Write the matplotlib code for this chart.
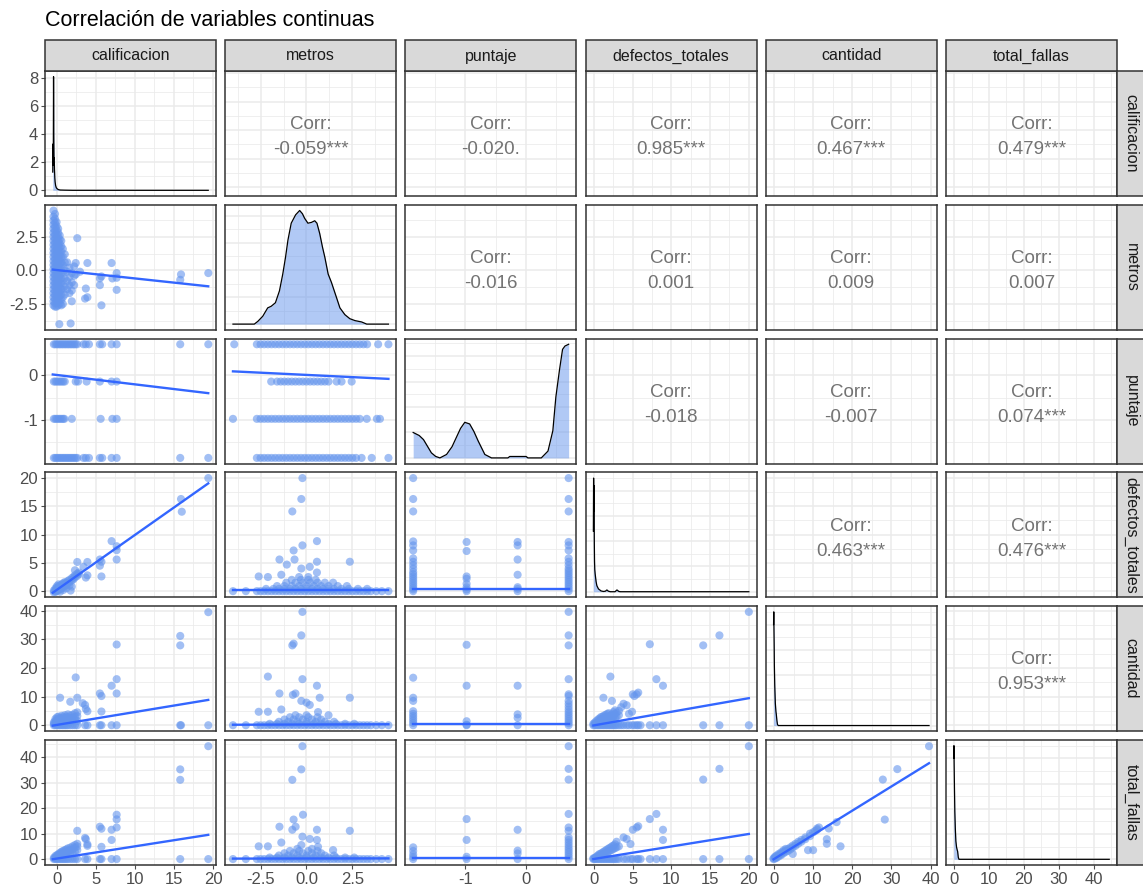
import matplotlib
matplotlib.use("Agg")
import matplotlib.pyplot as plt
from matplotlib.patches import Rectangle
from matplotlib.ticker import MaxNLocator, AutoMinorLocator

plt.rcParams["font.family"] = ["Liberation Sans", "DejaVu Sans"]

# variables and their observed ranges
variables = ["calificacion", "metros", "puntaje", "defectos_totales", "cantidad", "total_fallas"]
var_min = [-0.54, -4.0, -1.86, -0.1, -0.1, -0.1]
var_max = [19.39, 4.46, 0.70, 20.0, 39.6, 44.5]

major_ticks = [[0, 5, 10, 15, 20], [-2.5, 0.0, 2.5], [-1, 0], [0, 5, 10, 15, 20],
               [0, 10, 20, 30, 40], [0, 10, 20, 30, 40]]
major_labels = [["0", "5", "10", "15", "20"], ["-2.5", "0.0", "2.5"], ["-1", "0"],
                ["0", "5", "10", "15", "20"], ["0", "10", "20", "30", "40"],
                ["0", "10", "20", "30", "40"]]
minor_ticks = [[2.5, 7.5, 12.5, 17.5], [-3.75, -1.25, 1.25, 3.75], [-1.5, -0.5, 0.5],
               [2.5, 7.5, 12.5, 17.5], [5, 15, 25, 35], [5, 15, 25, 35, 45]]

# correlation labels, upper triangle row by row
corr_labels = [
    ["-0.059***", "-0.020.", "0.985***", "0.467***", "0.479***"],
    ["-0.016", "0.001", "0.009", "0.007"],
    ["-0.018", "-0.007", "0.074***"],
    ["0.463***", "0.476***"],
    ["0.953***"],
]

# linear fits (intercept, slope) for the lower panels
fit_lines = {
    (1, 0): (0.025, -0.0624), (2, 0): (0.008, -0.0211), (3, 0): (0.25, 0.97),
    (4, 0): (0.12, 0.45), (5, 0): (0.2, 0.48),
    (2, 1): (0.01, -0.02), (3, 1): (0.12, 0.0), (4, 1): (0.25, 0.02), (5, 1): (0.22, 0.01),
    (3, 2): (0.3, 0.0), (4, 2): (0.3, 0.0), (5, 2): (0.3, 0.0),
    (4, 3): (-0.03, 0.474), (5, 3): (0.05, 0.49),
    (5, 4): (0.0, 0.95),
}

# density curves for the diagonal
dens_calif_x = [-0.54, -0.52, -0.5, -0.47, -0.44, -0.41, -0.38, -0.35, -0.32, -0.28, -0.24,
                -0.18, -0.1, 0.0, 0.15, 0.4, 1.0, 2.0, 19.39]
dens_calif_y = [1.3, 3.3, 1.8, 2.6, 8.1, 4.0, 2.2, 2.3, 1.5, 0.9, 0.6, 0.35, 0.2, 0.12, 0.06,
                0.02, 0.01, 0.0, 0.0]
dens_metros_x = [-4.0, -2.84, -2.65, -2.38, -2.11, -1.92, -1.69, -1.47, -1.29, -1.14, -1.01,
                 -0.83, -0.59, -0.37, -0.22, -0.10, 0.08, 0.27, 0.45, 0.57, 0.72, 0.87, 1.0,
                 1.18, 1.36, 1.64, 1.82, 2.09, 2.36, 2.64, 3.0, 3.28, 4.46]
dens_metros_y = [0.0, 0.0, 0.010, 0.029, 0.060, 0.066, 0.079, 0.123, 0.185, 0.247, 0.310,
                 0.373, 0.404, 0.420, 0.408, 0.391, 0.373, 0.376, 0.382, 0.373, 0.335, 0.285,
                 0.247, 0.185, 0.154, 0.097, 0.060, 0.035, 0.020, 0.013, 0.008, 0.0, 0.0]
dens_puntaje_x = [-1.86, -1.76, -1.69, -1.62, -1.56, -1.49, -1.42, -1.31, -1.22, -1.15, -1.08,
                  -1.01, -0.93, -0.86, -0.79, -0.68, -0.57, -0.30, -0.27, 0.0, 0.03, 0.25,
                  0.36, 0.44, 0.49, 0.55, 0.60, 0.64, 0.70]
dens_puntaje_y = [0.25, 0.22, 0.18, 0.11, 0.05, 0.015, 0.0, 0.034, 0.11, 0.20, 0.29, 0.35,
                  0.334, 0.26, 0.167, 0.034, 0.0, 0.0, 0.014, 0.014, 0.0, 0.0, 0.067, 0.267,
                  0.60, 0.867, 1.067, 1.10, 1.117]
dens_defectos_x = [-0.1, -0.07, -0.04, -0.01, 0.02, 0.05, 0.08, 0.13, 0.25, 0.35, 0.56, 0.9,
                   1.2, 1.45, 1.65, 1.85, 2.1, 2.7, 2.95, 3.2, 3.4, 20.0]
dens_defectos_y = [2.4, 4.5, 3.2, 4.2, 2.0, 1.2, 0.88, 0.71, 0.4, 0.24, 0.11, 0.03, 0.01,
                   0.02, 0.07, 0.02, 0.0, 0.0, 0.07, 0.01, 0.0, 0.0]
dens_cantidad_x = [-0.1, -0.05, 0.0, 0.05, 0.1, 0.2, 0.35, 0.5, 0.6, 0.75, 0.9, 1.1, 39.6]
dens_cantidad_y = [4.0, 4.5, 3.8, 3.2, 2.4, 1.6, 0.88, 0.56, 0.44, 0.2, 0.04, 0.0, 0.0]
dens_total_x = [-0.1, -0.05, 0.0, 0.1, 0.2, 0.35, 0.5, 0.7, 0.9, 1.0, 1.2, 1.4, 44.5]
dens_total_y = [4.0, 4.5, 3.8, 2.8, 1.9, 1.2, 0.72, 0.48, 0.36, 0.32, 0.08, 0.0, 0.0]

densities = [(dens_calif_x, dens_calif_y), (dens_metros_x, dens_metros_y),
             (dens_puntaje_x, dens_puntaje_y), (dens_defectos_x, dens_defectos_y),
             (dens_cantidad_x, dens_cantidad_y), (dens_total_x, dens_total_y)]

# scatter points, grouped as (x, [y values]) or (y, [x values])
calif_vs_metros = [
    (-0.45, [4.45, 4.0, 3.7, 3.4, 3.1, 2.8, 2.5, 2.2, 1.9, 1.6, 1.3, 1.0, 0.7, 0.4, 0.1, -0.2,
             -0.5, -0.8, -1.1, -1.4, -1.7, -2.0, -2.3, -2.6]),
    (-0.25, [4.2, 3.85, 3.55, 3.25, 2.95, 2.65, 2.35, 2.05, 1.75, 1.45, 1.15, 0.85, 0.55, 0.25,
             -0.05, -0.35, -0.65, -0.95, -1.25, -1.55, -1.85, -2.15, -2.45, -2.7]),
    (-0.05, [3.6, 3.3, 3.0, 2.7, 2.4, 2.1, 1.8, 1.5, 1.2, 0.9, 0.6, 0.3, 0.0, -0.3, -0.6, -0.9,
             -1.2, -1.5, -1.8, -2.1, -2.4, -2.7]),
    (0.15, [3.1, 2.8, 2.5, 2.2, 1.9, 1.6, 1.3, 1.0, 0.7, 0.4, 0.1, -0.2, -0.5, -0.8, -1.1,
            -1.4, -1.7, -2.0, -2.3, -2.6]),
    (0.3, [-4.0]),
    (0.35, [2.6, 2.3, 2.0, 1.7, 1.4, 1.1, 0.8, 0.5, 0.2, -0.1, -0.4, -0.7, -1.0, -1.3, -1.6,
            -1.9, -2.2, -2.5]),
    (0.55, [2.2, 1.8, 1.4, 1.0, 0.6, 0.2, -0.2, -0.6, -1.0, -1.4, -1.8, -2.2, -2.6]),
    (0.75, [1.6, 1.0, 0.4, -0.2, -0.8, -1.4, -2.0, -2.5]),
    (1.0, [1.2, 0.6, 0.0, -0.6, -1.2, -1.8]),
    (1.3, [0.6, -0.1, -0.8, -1.4]),
    (1.6, [0.2, -0.5, -1.1, -1.7]),
    (1.75, [-3.95]),
    (1.9, [-0.2, -0.9, -1.5, -2.3]),
    (2.2, [0.3, -0.4, -1.1]),
    (2.4, [0.55, -0.3]),
    (2.6, [2.4]),
    (2.95, [-0.1]),
    (3.6, [-2.1]),
    (3.7, [-1.35]),
    (3.9, [0.55, -2.0]),
    (5.5, [-0.6, -1.1]),
    (5.7, [-2.6, -0.45]),
    (7.0, [0.55]),
    (7.1, [-0.6]),
    (7.65, [-0.2, -0.55, -1.45]),
    (15.8, [-0.7]),
    (15.9, [-0.3]),
    (19.4, [-0.2]),
]
calif_vs_puntaje = [
    (0.70, [-0.4, -0.2, 0.0, 0.2, 0.4, 0.6, 0.8, 1.0, 1.2, 1.4, 1.6, 1.8, 2.0, 2.2, 2.4, 2.6,
            3.4, 3.7, 4.1, 5.5, 5.8, 7.0, 7.65, 15.8, 19.4]),
    (-0.14, [-0.4, -0.2, 0.0, 0.2, 0.4, 0.6, 0.8, 1.0, 2.4, 2.7, 3.8, 5.5, 7.0, 7.65]),
    (-0.98, [-0.4, -0.2, 0.0, 0.2, 0.4, 0.6, 0.8, 0.95, 1.9, 5.6, 7.1, 7.65]),
    (-1.86, [-0.4, -0.2, 0.0, 0.2, 0.4, 0.6, 0.8, 1.0, 1.2, 1.4, 1.6, 1.8, 2.0, 2.2, 2.4, 2.6,
             3.4, 3.7, 4.1, 5.5, 5.8, 7.0, 7.65, 15.8, 19.4]),
]
calif_vs_defectos = [
    (-0.4, [-0.2, 0.1]), (-0.2, [-0.1, 0.2, 0.5]), (0.0, [0.0, 0.3, 0.6, 0.9]),
    (0.2, [0.2, 0.5, 0.8, 1.2]), (0.4, [-0.1, 0.3, 0.6, 1.0]), (0.6, [0.5, 0.8, 1.2]),
    (0.8, [0.2, 0.7, 1.0, 1.4]), (1.0, [0.9, 1.3, 1.6]), (1.2, [0.5, 1.1, 1.5]),
    (1.4, [1.4, 1.8]), (1.6, [1.0, 1.6, 2.0]), (1.75, [0.1]), (1.9, [0.8, 1.9, 2.3]),
    (2.1, [2.1, 2.5]), (2.3, [2.4, 2.8, 3.7]), (2.6, [2.7, 3.1, 5.16]), (2.8, [3.0, 3.3]),
    (3.4, [4.3]), (3.7, [2.4]), (3.9, [2.8, 5.16]), (5.5, [4.5, 5.6]), (5.7, [2.6, 5.2]),
    (7.0, [8.85]), (7.65, [5.6, 7.25, 7.95]), (15.9, [16.3]), (16.0, [14.05]), (19.4, [20.0]),
]
calif_vs_cantidad = [
    (-0.4, [0, 0.5, 1.0]), (-0.2, [0, 0.8, 1.5, 2.2]), (0.0, [0, 0.5, 1.2, 2.0, 2.8]),
    (0.2, [0, 1.0, 1.8, 3.0]), (0.4, [0, 0.6, 1.5, 2.5, 9.6]), (0.6, [0, 1.2, 2.2, 3.3]),
    (0.8, [0, 0.8, 1.8, 2.8]), (1.0, [0, 1.5, 2.5, 3.5]), (1.2, [0, 1.0, 2.0, 3.0]),
    (1.4, [0, 1.8, 2.8, 3.8]), (1.7, [0, 1.2, 2.2, 3.4, 8.2]), (2.0, [0, 1.5, 2.6, 3.6]),
    (2.3, [0, 2.0, 3.0, 4.2]), (2.4, [16.7]), (2.6, [0, 1.5, 3.2, 4.5, 9.6]), (3.3, [7.7]),
    (3.6, [0, 7.1]), (3.7, [5.7]), (3.9, [0, 4.9]), (5.5, [0, 11.1]), (5.7, [0, 4.8, 10.2]),
    (7.0, [0, 13.8]), (7.65, [0, 11.1, 16.1, 28.2]), (15.8, [0, 27.9, 31.2]), (15.9, [0]),
    (19.4, [0, 39.5]),
]
calif_vs_total = [
    (-0.4, [0, 0.5]), (-0.2, [0, 0.6, 1.2]), (0.0, [0, 0.5, 1.0, 1.6]),
    (0.2, [0, 0.8, 1.5, 2.0]), (0.4, [0, 1.0, 1.8, 2.5]), (0.6, [0, 1.2, 2.2, 2.9]),
    (0.8, [0, 1.0, 2.0, 3.2]), (1.0, [0, 1.5, 2.5, 3.5]), (1.2, [0, 1.8, 2.8, 3.8]),
    (1.4, [0, 2.0, 3.2, 4.2]), (1.7, [0, 2.5, 3.6, 4.5]), (2.0, [0, 2.2, 3.8, 5.0]),
    (2.3, [0, 3.0, 4.5, 5.5]), (2.6, [0, 3.5, 5.0, 6.0, 11.1]), (3.6, [0, 8.3]),
    (3.7, [7.8]), (3.9, [0, 5.2, 5.8]), (5.5, [0, 12.7]), (5.7, [0, 4.8, 11.9]),
    (7.0, [0, 7.5, 11.5]), (7.65, [0, 12.4, 15.6, 17.4]), (15.8, [0, 31.1, 35.2]),
    (19.4, [0, 44.3]),
]

metros_bulk = [-2.7, -2.5, -2.3, -2.1, -1.9, -1.7, -1.5, -1.3, -1.1, -0.9, -0.7, -0.5, -0.3,
               -0.1, 0.1, 0.3, 0.5, 0.7, 0.9, 1.1, 1.3, 1.5, 1.7, 1.9, 2.1, 2.3, 2.5, 2.7,
               2.9, 3.1, 3.3]
metros_tails = [-4.0, -3.3, 3.5, 3.8, 4.1, 4.46]

metros_vs_puntaje = [
    (0.70, [-3.93] + metros_bulk + [3.9, 4.46]),
    (-0.14, [-1.92, -1.6, -1.4, -1.2, -1.0, -0.8, -0.6, -0.4, -0.2, 0.0, 0.2, 0.4, 0.6, 0.8,
             1.0, 1.2, 1.64, 1.91, 2.46]),
    (-0.98, [-4.0, -2.7, -2.5, -2.3, -2.1, -1.9, -1.7, -1.5, -1.3, -1.1, -0.9, -0.7, -0.5,
             -0.3, -0.1, 0.1, 0.3, 0.5, 0.7, 0.9, 1.1, 1.3, 1.5, 1.7, 1.9, 2.1, 2.3, 2.5,
             2.7, 2.9, 3.28, 3.83, 4.0]),
    (-1.86, [-2.7, -2.5, -2.3, -2.1, -1.9, -1.7, -1.5, -1.3, -1.1, -0.9, -0.7, -0.5, -0.3,
             -0.1, 0.1, 0.3, 0.5, 0.7, 0.9, 1.1, 1.3, 1.5, 1.7, 1.9, 2.1, 2.3, 2.5, 2.7,
             3.0, 3.55, 4.46]),
]
metros_vs_defectos = [
    (0.0, metros_bulk + metros_tails),
    (0.4, [-2.2, -1.8, -1.5, -1.2, -0.9, -0.6, -0.3, 0.0, 0.3, 0.6, 0.9, 1.2, 1.5, 1.9, 2.3,
           2.8, 3.3]),
    (0.9, [-1.6, -1.2, -0.8, -0.4, 0.0, 0.4, 0.8, 1.2, 1.7, 2.2]),
    (1.5, [-1.1, -0.6, -0.2, 0.2, 0.6, 1.0, 1.45]),
    (2.0, [-0.8, -0.3, 0.1, 0.5]),
    (2.5, [-2.1, -0.4, 0.1]), (2.6, [-2.6]), (2.9, [-1.37]), (3.3, [0.57]), (4.0, [-0.28]),
    (4.3, [0.18]), (4.7, [-1.07]), (5.2, [0.57, 2.36]), (5.6, [-1.47, -0.65]), (7.2, [-0.7]),
    (8.1, [-0.22]), (8.85, [0.57]), (14.1, [-0.77]), (16.3, [-0.28]), (20.0, [-0.22]),
]
metros_vs_cantidad = [
    (0.0, metros_bulk + metros_tails),
    (0.5, [-2.0, -1.6, -1.2, -0.8, -0.4, 0.0, 0.4, 0.8, 1.2, 1.6, 2.1, 2.6]),
    (1.2, [-1.5, -1.0, -0.5, 0.0, 0.5, 1.0, 1.5]),
    (2.0, [-1.2, -0.7, -0.2, 0.3, 0.8]),
    (2.8, [-0.9, -0.4, 0.1, 0.6]),
    (3.5, [-0.6, 0.0, 1.2]), (4.6, [0.63]), (4.7, [-2.6, -2.1]), (5.5, [-1.37]),
    (7.1, [0.18]), (7.9, [0.0]), (8.5, [-0.28]), (9.6, [0.72, 2.36]), (10.6, [-0.74]),
    (11.1, [-1.47, -0.6]), (13.8, [0.57]), (16.1, [-0.22]), (17.0, [-2.1]), (27.9, [-0.77]),
    (28.5, [-0.7]), (31.4, [-0.28]), (39.6, [-0.22]),
]
metros_vs_total = [
    (0.0, metros_bulk + metros_tails),
    (0.6, [-2.0, -1.6, -1.2, -0.8, -0.4, 0.0, 0.4, 0.8, 1.2, 1.6, 2.1, 2.6]),
    (1.4, [-1.5, -1.0, -0.5, 0.0, 0.5, 1.0, 1.5]),
    (2.3, [-1.2, -0.7, -0.2, 0.3, 0.8]),
    (3.2, [-0.9, -0.4, 0.1, 0.6]),
    (3.5, [1.45]), (4.0, [-0.5, 0.3]), (4.8, [0.63]), (5.0, [-2.6, -2.1]), (5.5, [-0.28]),
    (6.5, [-1.37]), (7.5, [0.57]), (7.9, [0.18]), (8.8, [-0.22]), (11.1, [2.36]),
    (11.5, [-0.77, 0.57]), (12.7, [-1.47, -0.59]), (15.5, [-0.7]), (17.4, [-0.19]),
    (31.1, [-0.77]), (35.2, [-0.28]), (44.3, [-0.22]),
]

puntaje_vs_defectos = [
    (-1.86, [20.0, 16.3, 14.1, 8.8, 8.1, 7.2, 5.8, 5.2, 4.6, 4.0, 3.4, 3.0, 2.6, 2.2, 1.8,
             1.4, 1.0, 0.6, 0.3, 0.0]),
    (-0.98, [8.7, 7.1, 2.6, 2.2, 1.3, 0.7, 0.3, 0.0]),
    (-0.14, [8.7, 8.1, 5.6, 2.9, 0.7, 0.4, 0.0]),
    (0.70, [20.0, 16.3, 14.1, 8.7, 8.1, 7.2, 5.8, 5.2, 4.6, 4.0, 3.6, 3.2, 2.8, 2.4, 2.0, 1.6,
            1.2, 0.8, 0.4, 0.0]),
]
puntaje_vs_cantidad = [
    (-1.86, [16.6, 9.6, 8.5, 4.9, 4.0, 3.2, 2.4, 1.6, 0.8, 0.0]),
    (-0.98, [28.1, 13.8, 1.4, 0.2, 0.0]),
    (-0.14, [13.8, 3.8, 2.6, 0.0]),
    (0.70, [39.6, 31.4, 27.9, 16.1, 10.8, 10.2, 8.5, 7.5, 6.5, 5.5, 4.6, 3.8, 3.0, 2.2, 1.4,
            0.7, 0.0]),
]
puntaje_vs_total = [
    (-1.86, [4.6, 3.2, 1.8, 0.8, 0.0]),
    (-0.98, [15.7, 7.5, 0.9, 0.0]),
    (-0.14, [11.5, 3.3, 2.2, 0.0]),
    (0.70, [44.3, 35.4, 31.2, 17.7, 12.4, 11.1, 8.5, 7.5, 6.5, 5.5, 4.5, 3.6, 2.7, 1.8, 0.9,
            0.0]),
]

defectos_vs_cantidad = [
    (-0.1, [0, 0.5]), (0.1, [0, 0.4, 1.0]), (0.3, [0, 0.8, 1.5]), (0.5, [0, 1.0, 2.0]),
    (0.7, [0, 0.6, 1.6, 2.4]), (0.9, [0, 1.2, 2.2, 2.9]), (1.1, [0, 1.0, 2.0, 3.0]),
    (1.2, [9.6]), (1.3, [0, 1.6, 2.6, 3.4]), (1.5, [0, 1.2, 2.4, 3.6]),
    (1.7, [0, 2.0, 3.0, 4.0]), (1.9, [0, 1.5, 2.8, 4.2]), (2.1, [0, 2.2, 3.4, 17.0]),
    (2.3, [0, 2.5, 3.8, 8.5]), (2.5, [0, 1.8, 3.0, 4.6]), (2.7, [0, 2.6, 4.0, 5.2]),
    (2.9, [0, 3.0, 4.4]), (3.2, [0, 3.5, 5.0]), (3.5, [0, 6.3]), (3.8, [0, 7.5]),
    (4.2, [0, 7.0]), (4.5, [0, 4.0]), (4.9, [0, 4.7]), (5.0, [10.8]), (5.2, [0, 10.2]),
    (5.5, [0, 10.8]), (5.7, [0, 11.4]), (6.0, [0]), (7.2, [0, 28.3]), (8.05, [0, 16.1]),
    (8.9, [0, 13.8]), (14.1, [0, 27.9]), (16.2, [0, 31.4]), (20.0, [0, 39.6]),
]
defectos_vs_total = [
    (-0.1, [0, 0.3]), (0.1, [0, 0.2, 0.5]), (0.3, [0, 0.6, 1.0]), (0.5, [0, 1.0, 1.5]),
    (0.7, [0, 1.3, 2.0]), (0.9, [0, 1.2, 2.2]), (1.1, [0, 1.8, 2.6]), (1.3, [0, 2.0, 3.0]),
    (1.5, [0, 2.4, 3.4]), (1.7, [0, 2.6, 3.8]), (1.9, [0, 3.0, 4.2]), (2.1, [0, 3.4, 4.5]),
    (2.3, [0, 3.6, 5.0]), (2.5, [0, 4.0, 5.3]), (2.7, [0, 4.3, 5.8]), (2.9, [0, 4.6, 6.8]),
    (3.2, [0, 5.0]), (3.8, [0, 8.5]), (4.2, [0, 7.9]), (4.7, [0, 5.9]), (5.0, [0, 11.5]),
    (5.5, [0, 12.4]), (5.7, [0, 12.9]), (6.0, [0]), (7.2, [0, 15.7]), (8.05, [0, 17.7]),
    (8.9, [0, 7.5, 11.5]), (14.1, [0, 31.2]), (16.2, [0, 35.4]), (20.0, [0, 44.3]),
]
cantidad_vs_total = [
    (-0.1, [0, 0.3]), (0.3, [0.2, 0.6, 1.0]), (0.7, [0.5, 0.9, 1.4]), (1.2, [1.0, 1.5, 2.0]),
    (1.8, [1.5, 2.0, 2.6]), (2.4, [2.2, 2.8, 3.4]), (3.0, [2.8, 3.4, 4.0]), (3.6, [3.2, 4.0]),
    (4.2, [3.8, 4.6]), (4.8, [2.0, 4.5, 5.3]), (5.5, [5.2, 6.0]), (6.2, [6.0, 6.8]),
    (7.0, [6.8, 7.5]), (8.0, [7.8, 8.5]), (8.7, [3.5]), (9.2, [9.0, 10.0]), (10.0, [3.5, 10.5]),
    (10.5, [11.0]), (11.0, [11.5, 12.0]), (11.5, [12.4]), (13.5, [6.0, 7.8]), (14.0, [12.0]),
    (16.0, [14.5]), (17.0, [5.0]), (27.8, [31.2]), (28.3, [15.5]), (31.5, [35.3]),
    (39.6, [44.3]),
]


def from_x_groups(groups):
    xs, ys = [], []
    for x, vals in groups:
        xs += [x] * len(vals)
        ys += list(vals)
    return xs, ys


def from_y_groups(groups):
    ys, xs = from_x_groups(groups)
    return xs, ys


scatter_points = {
    (1, 0): from_x_groups(calif_vs_metros),
    (2, 0): from_y_groups(calif_vs_puntaje),
    (3, 0): from_x_groups(calif_vs_defectos),
    (4, 0): from_x_groups(calif_vs_cantidad),
    (5, 0): from_x_groups(calif_vs_total),
    (2, 1): from_y_groups(metros_vs_puntaje),
    (3, 1): from_y_groups(metros_vs_defectos),
    (4, 1): from_y_groups(metros_vs_cantidad),
    (5, 1): from_y_groups(metros_vs_total),
    (3, 2): from_x_groups(puntaje_vs_defectos),
    (4, 2): from_x_groups(puntaje_vs_cantidad),
    (5, 2): from_x_groups(puntaje_vs_total),
    (4, 3): from_x_groups(defectos_vs_cantidad),
    (5, 3): from_x_groups(defectos_vs_total),
    (5, 4): from_x_groups(cantidad_vs_total),
}

W, H = 1143, 891
fig = plt.figure(figsize=(W / 100, H / 100), dpi=100)
fig.patch.set_facecolor("white")

n = len(variables)
panel_w, panel_h = 171, 125
col_left = [45 + j * 180.2 for j in range(n)]
row_top = [71 + i * 133.8 for i in range(n)]

point_color = "#6495ED"
line_color = "#3366FF"
grid_color = "#EBEBEB"
border_color = "#333333"
text_grey = "#4D4D4D"


def padded(lo, hi):
    pad = 0.05 * (hi - lo)
    return lo - pad, hi + pad


def fig_rect(left, top, width, height):
    return [left / W, 1 - (top + height) / H, width / W, height / H]


for i in range(n):
    for j in range(n):
        ax = fig.add_axes(fig_rect(col_left[j], row_top[i], panel_w, panel_h))
        ax.set_facecolor("white")
        ax.set_xlim(*padded(var_min[j], var_max[j]))
        ax.set_xticks(major_ticks[j])
        ax.set_xticks(minor_ticks[j], minor=True)

        if i == j:
            dx, dy = densities[i]
            top = max(dy)
            ax.set_ylim(-0.05 * top, 1.05 * top)
            if i == 0:
                ax.set_yticks([0, 2, 4, 6, 8])
                ax.set_yticks([1, 3, 5, 7], minor=True)
            else:
                ax.yaxis.set_major_locator(MaxNLocator(5))
                ax.yaxis.set_minor_locator(AutoMinorLocator(2))
            ax.fill_between(dx, 0, dy, color=point_color, alpha=0.5, lw=0, zorder=2)
            ax.plot(dx, dy, color="black", lw=0.9, zorder=3)
        else:
            ax.set_ylim(*padded(var_min[i], var_max[i]))
            ax.set_yticks(major_ticks[i])
            ax.set_yticks(minor_ticks[i], minor=True)
            if i > j:
                px, py = scatter_points[(i, j)]
                ax.scatter(px, py, s=34, color=point_color, alpha=0.6,
                           edgecolors="none", zorder=2)
                a, b = fit_lines[(i, j)]
                x0, x1 = var_min[j], var_max[j]
                ax.plot([x0, x1], [a + b * x0, a + b * x1], color=line_color,
                        lw=1.7, zorder=3)
            else:
                ax.text(0.5, 0.57, "Corr:", transform=ax.transAxes, ha="center",
                        va="center", fontsize=13.5, color="#737373")
                ax.text(0.5, 0.37, corr_labels[i][j - i - 1], transform=ax.transAxes,
                        ha="center", va="center", fontsize=13.5, color="#737373")

        ax.set_axisbelow(True)
        ax.grid(which="major", color=grid_color, lw=1.1)
        ax.grid(which="minor", color=grid_color, lw=0.55)
        for sp in ax.spines.values():
            sp.set_color(border_color)
            sp.set_linewidth(1.1)

        ax.tick_params(which="both", length=0, labelbottom=False, labelleft=False)
        if j == 0:
            ax.tick_params(axis="y", which="major", length=3, color=text_grey,
                           labelleft=True, labelsize=12, labelcolor=text_grey, pad=2)
            if i != 0:
                ax.set_yticklabels(major_labels[i])
        if i == n - 1:
            ax.tick_params(axis="x", which="major", length=3, color=text_grey,
                           labelbottom=True, labelsize=12, labelcolor=text_grey, pad=2)
            ax.set_xticklabels(major_labels[j])

# facet strips: variable names on top and on the right
for j, name in enumerate(variables):
    fig.add_artist(Rectangle((col_left[j] / W, 1 - 71 / H), panel_w / W, 31 / H,
                             transform=fig.transFigure, facecolor="#D9D9D9",
                             edgecolor=border_color, lw=1.1))
    fig.text((col_left[j] + panel_w / 2) / W, 1 - 56 / H, name, ha="center", va="center",
             fontsize=11.5, color="#1A1A1A")
for i, name in enumerate(variables):
    strip_left = col_left[-1] + panel_w
    fig.add_artist(Rectangle((strip_left / W, 1 - (row_top[i] + panel_h) / H), 40 / W,
                             panel_h / H, transform=fig.transFigure, facecolor="#D9D9D9",
                             edgecolor=border_color, lw=1.1))
    fig.text((strip_left + 14) / W, 1 - (row_top[i] + panel_h / 2) / H, name,
             ha="center", va="center", rotation=-90, fontsize=11.5, color="#1A1A1A")

fig.text(45 / W, 1 - 21 / H, "Correlación de variables continuas", ha="left", va="center",
         fontsize=15.5, color="black")

fig.savefig("out.png", dpi=100, facecolor="white")
